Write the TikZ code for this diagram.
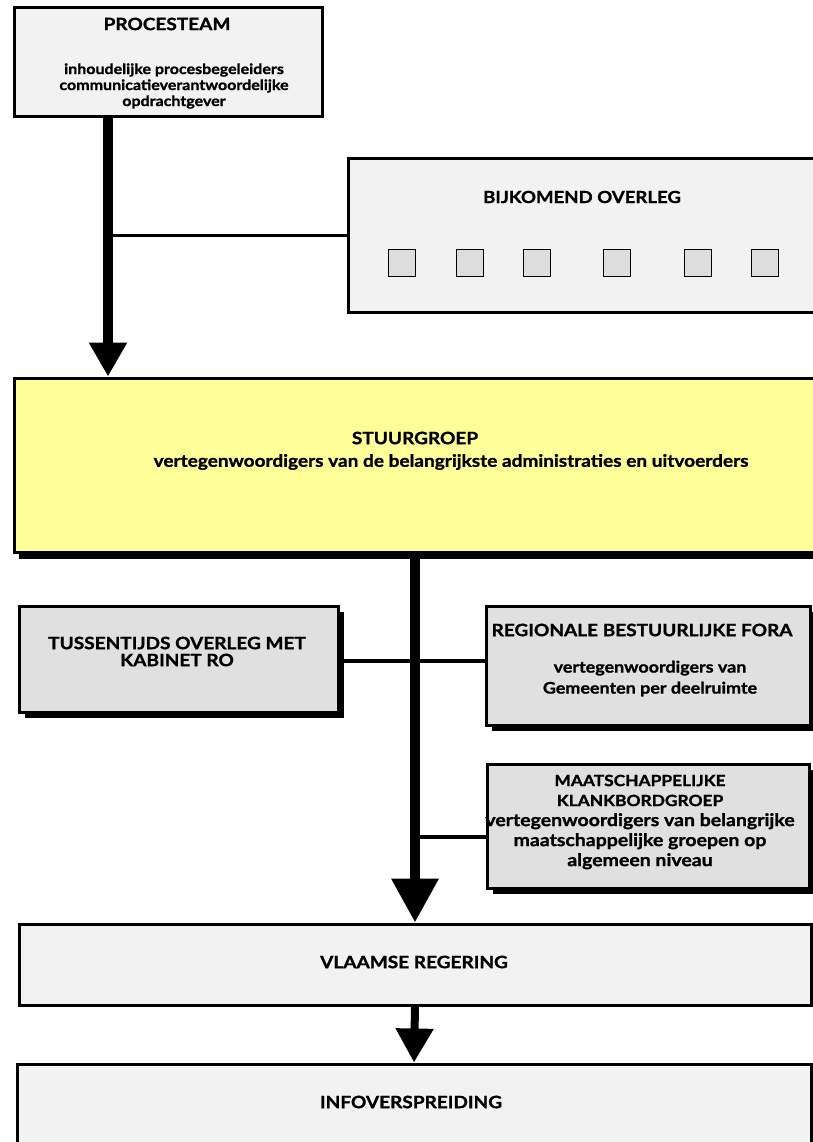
\documentclass[tikz,border=0pt]{standalone}
\usepackage{fontspec}
\setmainfont{Lato}[FakeStretch=1.12, BoldFeatures={FakeBold=1.2}]
\usetikzlibrary{calc,positioning,arrows.meta,shadows}
\definecolor{boxgray}{HTML}{F2F2F2}
\definecolor{sidegray}{HTML}{E0E0E0}
\definecolor{vakgray}{HTML}{DDDDDD}
\definecolor{stuurgeel}{HTML}{FFFF99}
\tikzset{
  box/.style={
    rectangle,
    draw=black, line width=3pt,
    fill=boxgray,
    inner sep=0pt},
  schaduwbox/.style={
    box,
    fill=sidegray,
    drop shadow={fill=black, opacity=1, shadow xshift=6pt, shadow yshift=-6pt}},
  vakje/.style={
    rectangle, draw=black, line width=1.2pt, fill=vakgray,
    minimum size=27pt, inner sep=0pt},
  kop/.style={font=\bfseries\fontsize{17}{19}\selectfont, align=center, inner sep=0pt},
  tekst/.style={font=\bfseries\fontsize{17}{20}\selectfont, align=center, inner sep=0pt},
  link/.style={draw, line width=3.5pt},
  pijl/.style={draw, line width=10pt, -{Triangle[width=36pt,length=34pt]}},
}
\begin{document}
\begin{tikzpicture}[x=1pt, y=-1pt]
  \useasboundingbox (0,0) rectangle (813,1142);
  \clip (0,0) rectangle (813,1142);

  \node[box, minimum width=308pt, minimum height=109pt] (proc) at (168,62.5) {};
  \node[box, minimum width=468pt, minimum height=153pt] (bijk) at (582,235.5) {};
  \node[box, fill=stuurgeel, minimum width=815pt, minimum height=174pt,
        drop shadow={fill=black, opacity=1, shadow xshift=5pt, shadow yshift=-7pt}] (stuur) at (421.5,465) {};
  \node[schaduwbox, minimum width=319pt, minimum height=106pt] (tuss) at (178.5,659) {};
  \node[schaduwbox, minimum width=324pt, minimum height=119pt] (regio) at (648,665.5) {};
  \node[schaduwbox, minimum width=322pt, minimum height=124pt] (maat) at (648,826) {};
  \node[box, minimum width=792pt, minimum height=81pt] (vlaam) at (415,964.5) {};
  \node[box, minimum width=794pt, minimum height=100pt] (info) at (414,1114) {};

  \node[kop] (proctitel) at (167,24) {PROCESTEAM};
  \node[tekst, font=\bfseries\fontsize{14.3}{16}\selectfont] (proctekst) at (174,86) {inhoudelijke procesbegeleiders\\communicatieverantwoordelijke\\opdrachtgever};

  \node[kop, font=\bfseries\fontsize{16.6}{19}\selectfont] (bijktitel) at (582,197) {BIJKOMEND OVERLEG};
  \foreach \x [count=\i] in {402,470,537,617,698,765}
    \node[vakje] (vak\i) at (\x,263) {};

  \node[kop] (stuurtitel) at (415,438) {STUURGROEP};
  \node[tekst] (stuurtekst) at (451,462) {vertegenwoordigers van de belangrijkste administraties en uitvoerders};

  \node[kop, font=\bfseries\fontsize{17}{17}\selectfont] (tusstitel) at (177,651.5) {TUSSENTIJDS OVERLEG MET\\KABINET RO};

  \node[kop] (regiotitel) at (642,630) {REGIONALE BESTUURLIJKE FORA};
  \node[tekst, font=\bfseries\fontsize{16}{21}\selectfont] (regiotekst) at (650,678.5) {vertegenwoordigers van\\Gemeenten per deelruimte};

  \node[tekst, font=\bfseries\fontsize{17.4}{20}\selectfont] (maattekst) at (640,822) {{\fontsize{15.5}{20}\selectfont MAATSCHAPPELIJKE}\\{\fontsize{15.5}{20}\selectfont KLANKBORDGROEP}\\vertegenwoordigers van belangrijke\\maatschappelijke groepen op\\algemeen niveau};

  \node[kop] (vlaamtekst) at (414,962) {VLAAMSE REGERING};
  \node[kop] (infotekst) at (411,1102) {INFOVERSPREIDING};

  \coordinate (as1) at (108,0);
  \coordinate (j1) at (416,661);
  \coordinate (j2) at (416,837);

  \path[link] (as1 |- bijk.west) -- (bijk.west);
  \path[pijl] (proc.south -| as1) -- (stuur.north -| as1);

  \path[link] (tuss.east |- j1) -- (regio.west |- j1);
  \path[link] (j2) -- (maat.west |- j2);
  \path[pijl, -{Triangle[width=45pt,length=44pt]}] (stuur.south -| vlaam.north) -- (vlaam.north);
  \path[pijl, line width=8pt] (vlaam.south) -- (info.north);
\end{tikzpicture}
\end{document}
